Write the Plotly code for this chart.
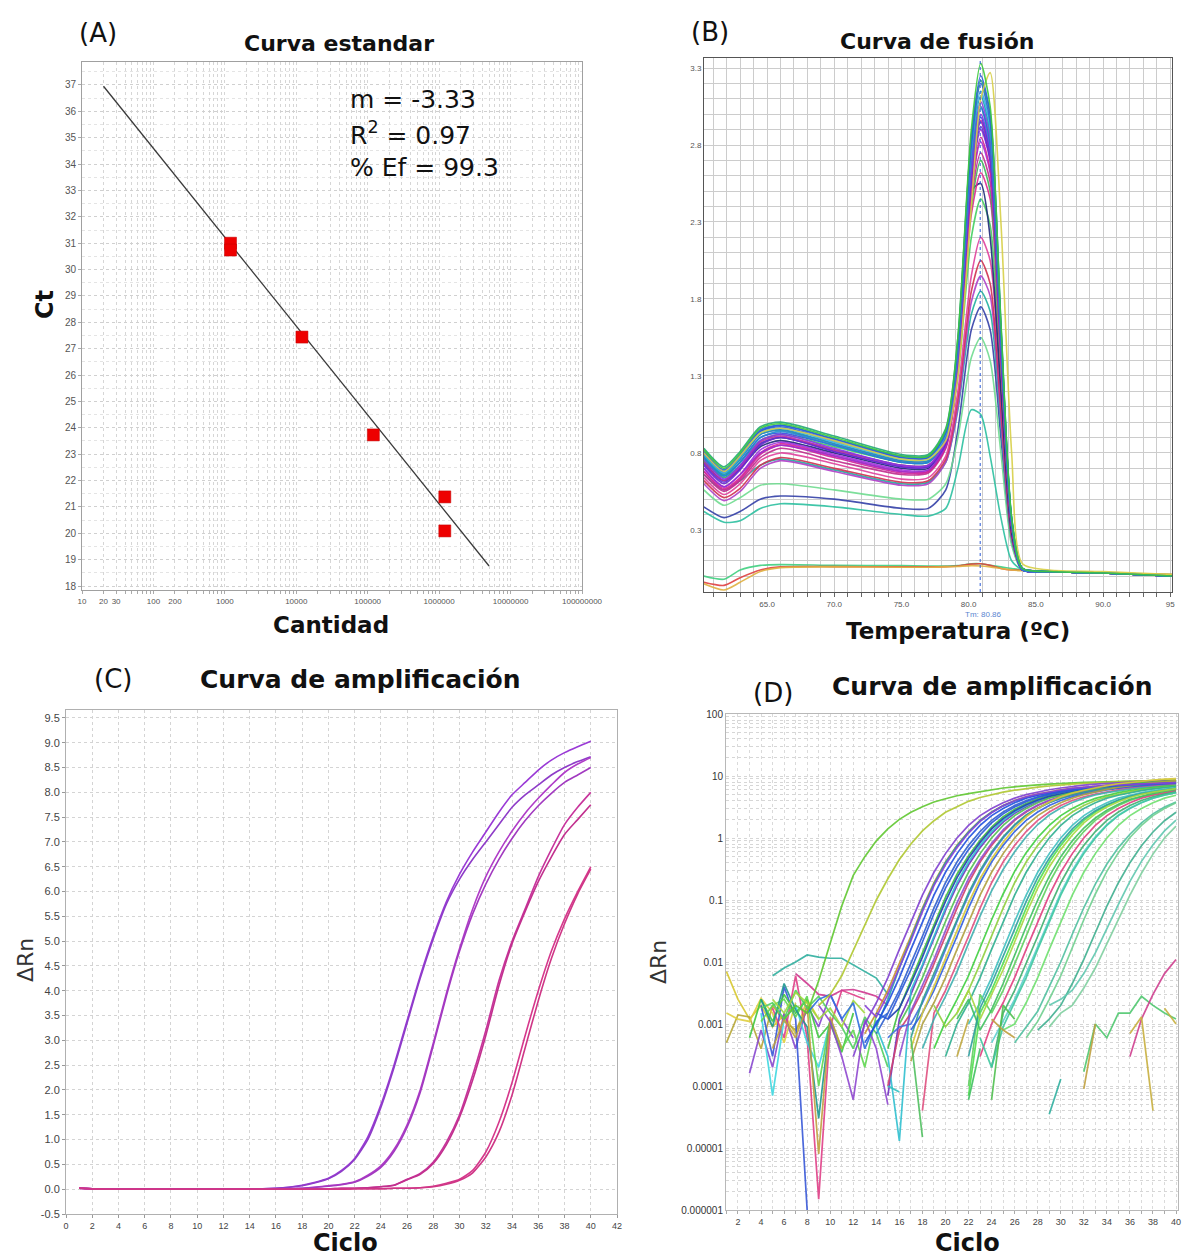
import plotly.graph_objects as go

W, H = 1185, 1256


def px(x):
    return x / W


def py(y):
    return 1 - y / H


# ================= Panel A: Curva estandar =================
a_quantity = [1200, 1200, 12000, 120000, 1200000, 1200000]
a_ct = [31.0, 30.74, 27.44, 23.73, 21.38, 20.09]
a_fit_quantity = [20, 5000000]
a_fit_ct = [36.95, 18.76]
a_stats = ["m = -3.33", "R<sup>2</sup> = 0.97", "% Ef = 99.3"]
a_xlabel_vals = [10, 20, 30, 100, 200, 1000, 10000, 100000, 1000000, 10000000, 100000000]
a_xlabel_text = ["10", "20", "30", "100", "200", "1000", "10000", "100000",
                 "1000000", "10000000", "100000000"]
a_ytick_vals = list(range(18, 38))

# ================= Panel B: Curva de fusión =================
b_temp = [60.3, 61.8, 63.0, 64.5, 66.0, 70.0, 75.0, 77.0, 78.3, 79.2, 80.2, 80.9,
          81.6, 82.4, 83.2, 84.0, 86.0, 90.0, 95.3]
b_curves = [
    [0.0, -0.02, 0.04, 0.07, 0.075, 0.07, 0.068, 0.066, 0.066, 0.068, 0.08, 0.08, 0.07, 0.06, 0.05, 0.04, 0.03, 0.02, 0.01],
    [-0.04, -0.06, -0.01, 0.04, 0.06, 0.062, 0.06, 0.06, 0.062, 0.066, 0.078, 0.08, 0.07, 0.05, 0.04, 0.04, 0.03, 0.02, 0.01],
    [-0.05, -0.09, -0.04, 0.03, 0.055, 0.06, 0.058, 0.058, 0.06, 0.063, 0.068, 0.066, 0.06, 0.05, 0.04, 0.035, 0.03, 0.02, 0.01],
    [0.42, 0.35, 0.36, 0.44, 0.47, 0.45, 0.40, 0.39, 0.44, 0.70, 1.08, 1.05, 0.78, 0.38, 0.10, 0.04, 0.03, 0.02, 0.0],
    [0.45, 0.38, 0.42, 0.50, 0.52, 0.50, 0.44, 0.44, 0.56, 0.95, 1.60, 1.75, 1.60, 0.90, 0.22, 0.04, 0.03, 0.02, 0.0],
    [0.56, 0.46, 0.51, 0.59, 0.60, 0.56, 0.50, 0.50, 0.60, 0.90, 1.42, 1.55, 1.40, 0.80, 0.20, 0.04, 0.03, 0.02, 0.0],
    [0.66, 0.56, 0.62, 0.72, 0.76, 0.69, 0.60, 0.61, 0.74, 1.08, 1.70, 1.85, 1.72, 0.98, 0.24, 0.04, 0.03, 0.02, 0.0],
    [0.60, 0.49, 0.55, 0.70, 0.75, 0.68, 0.59, 0.60, 0.74, 1.10, 1.78, 1.95, 1.82, 1.02, 0.25, 0.04, 0.03, 0.02, 0.0],
    [0.62, 0.51, 0.57, 0.72, 0.77, 0.70, 0.61, 0.62, 0.76, 1.15, 1.85, 2.05, 1.90, 1.08, 0.26, 0.04, 0.03, 0.02, 0.0],
    [0.64, 0.53, 0.60, 0.75, 0.80, 0.73, 0.63, 0.64, 0.78, 1.20, 1.95, 2.20, 2.05, 1.15, 0.28, 0.04, 0.03, 0.02, 0.0],
    [0.78, 0.66, 0.74, 0.88, 0.92, 0.84, 0.74, 0.74, 0.88, 1.30, 2.20, 2.45, 2.28, 1.28, 0.30, 0.04, 0.03, 0.02, 0.0],
    [0.74, 0.62, 0.70, 0.84, 0.88, 0.80, 0.70, 0.70, 0.88, 1.45, 2.50, 2.55, 2.20, 1.20, 0.28, 0.04, 0.03, 0.02, 0.0],
    [0.68, 0.57, 0.64, 0.80, 0.86, 0.78, 0.68, 0.68, 0.84, 1.33, 2.35, 2.62, 2.45, 1.36, 0.32, 0.04, 0.03, 0.02, 0.0],
    [0.75, 0.64, 0.72, 0.86, 0.90, 0.82, 0.72, 0.72, 0.86, 1.35, 2.40, 2.70, 2.50, 1.40, 0.32, 0.04, 0.03, 0.02, 0.0],
    [0.66, 0.55, 0.62, 0.77, 0.83, 0.75, 0.66, 0.67, 0.83, 1.34, 2.45, 2.75, 2.56, 1.42, 0.33, 0.04, 0.03, 0.02, 0.0],
    [0.70, 0.58, 0.66, 0.82, 0.87, 0.79, 0.69, 0.69, 0.85, 1.37, 2.50, 2.82, 2.62, 1.44, 0.33, 0.04, 0.03, 0.02, 0.0],
    [0.68, 0.56, 0.63, 0.79, 0.85, 0.77, 0.67, 0.68, 0.84, 1.36, 2.50, 2.85, 2.64, 1.45, 0.33, 0.04, 0.03, 0.02, 0.0],
    [0.70, 0.58, 0.66, 0.80, 0.85, 0.78, 0.68, 0.69, 0.85, 1.38, 2.55, 2.90, 2.70, 1.48, 0.34, 0.04, 0.03, 0.02, 0.0],
    [0.73, 0.61, 0.70, 0.86, 0.90, 0.81, 0.71, 0.71, 0.87, 1.40, 2.58, 2.92, 2.70, 1.49, 0.34, 0.04, 0.03, 0.02, 0.0],
    [0.72, 0.60, 0.69, 0.85, 0.90, 0.81, 0.71, 0.71, 0.86, 1.40, 2.60, 2.95, 2.72, 1.50, 0.34, 0.04, 0.03, 0.02, 0.0],
    [0.74, 0.62, 0.71, 0.87, 0.91, 0.82, 0.72, 0.72, 0.88, 1.43, 2.62, 2.96, 2.74, 1.51, 0.35, 0.04, 0.03, 0.02, 0.0],
    [0.77, 0.65, 0.74, 0.90, 0.93, 0.85, 0.74, 0.74, 0.90, 1.45, 2.65, 2.98, 2.75, 1.52, 0.35, 0.04, 0.03, 0.02, 0.0],
    [0.76, 0.63, 0.72, 0.88, 0.92, 0.83, 0.72, 0.72, 0.88, 1.42, 2.65, 3.00, 2.78, 1.52, 0.35, 0.04, 0.03, 0.02, 0.0],
    [0.77, 0.65, 0.74, 0.90, 0.94, 0.85, 0.74, 0.74, 0.90, 1.46, 2.68, 3.04, 2.80, 1.54, 0.35, 0.04, 0.03, 0.02, 0.0],
    [0.80, 0.68, 0.77, 0.94, 0.98, 0.89, 0.78, 0.78, 0.94, 1.48, 2.72, 3.05, 2.82, 1.55, 0.36, 0.05, 0.03, 0.02, 0.0],
    [0.79, 0.67, 0.76, 0.92, 0.95, 0.86, 0.75, 0.75, 0.91, 1.47, 2.72, 3.08, 2.85, 1.57, 0.36, 0.05, 0.03, 0.02, 0.0],
    [0.78, 0.66, 0.76, 0.92, 0.95, 0.86, 0.75, 0.75, 0.92, 1.48, 2.75, 3.12, 2.88, 1.58, 0.36, 0.05, 0.03, 0.02, 0.0],
    [0.79, 0.67, 0.77, 0.93, 0.96, 0.87, 0.76, 0.76, 0.92, 1.50, 2.78, 3.15, 2.92, 1.60, 0.37, 0.05, 0.03, 0.02, 0.0],
    [0.80, 0.68, 0.78, 0.94, 0.97, 0.88, 0.77, 0.77, 0.93, 1.50, 2.80, 3.20, 2.95, 1.60, 0.37, 0.05, 0.03, 0.02, 0.0],
    [0.83, 0.71, 0.81, 0.97, 1.00, 0.91, 0.79, 0.79, 0.96, 1.55, 2.85, 3.22, 3.00, 1.64, 0.38, 0.05, 0.03, 0.02, 0.0],
    [0.81, 0.69, 0.79, 0.95, 0.98, 0.89, 0.77, 0.77, 0.94, 1.52, 2.85, 3.25, 3.00, 1.62, 0.37, 0.05, 0.03, 0.02, 0.0],
    [0.80, 0.68, 0.78, 0.93, 0.96, 0.88, 0.76, 0.76, 0.88, 1.30, 2.40, 3.10, 3.27, 2.30, 0.80, 0.08, 0.04, 0.03, 0.01],
    [0.82, 0.70, 0.80, 0.96, 0.99, 0.90, 0.78, 0.78, 0.95, 1.55, 2.90, 3.33, 3.05, 1.65, 0.38, 0.05, 0.03, 0.02, 0.0],
]
b_colors = ["#40d080", "#e04040", "#e0b040", "#2cc0a0", "#3440a8", "#70dc90", "#20b0a0",
            "#b040c8", "#d03050", "#e0409c", "#44d060", "#1e2a78", "#e02890", "#38b858",
            "#c02c8c", "#a030e0", "#d0249a", "#9b30d0", "#5a30d8", "#6a2ad0", "#c02aa8",
            "#3a48e0", "#8a32e6", "#1f8fd0", "#2c70c8", "#8d3be8", "#1c9cb8", "#30b8e0",
            "#2a60d8", "#25a878", "#2f5fe0", "#d8d048", "#3ccc3c"]
b_tm = 80.86
b_xlabel_vals = [65, 70, 75, 80, 85, 90, 95]
b_xlabel_text = ["65.0", "70.0", "75.0", "80.0", "85.0", "90.0", "95"]
b_ylabel_text = ["0.3", "0.8", "1.3", "1.8", "2.3", "2.8", "3.3"]

# ================= Panel C: Curva de amplificación (lineal) =================
c_cycles = list(range(1, 41))
c_curves = [
    [0.02, 0.01, 0, 0, 0, 0, 0, 0, 0, 0, 0, 0, 0, 0.01, 0.01, 0.02, 0.04, 0.08, 0.14, 0.22,
     0.38, 0.62, 1.05, 1.7, 2.5, 3.4, 4.3, 5.1, 5.8, 6.35, 6.8, 7.2, 7.6, 7.95, 8.2, 8.45, 8.65, 8.8, 8.92, 9.03],
    [0.02, 0.01, 0, 0, 0, 0, 0, 0, 0, 0, 0, 0, 0, 0.01, 0.01, 0.02, 0.04, 0.07, 0.13, 0.21,
     0.36, 0.6, 1.0, 1.65, 2.45, 3.35, 4.25, 5.05, 5.75, 6.25, 6.65, 7.0, 7.35, 7.7, 7.95, 8.15, 8.35, 8.5, 8.62, 8.72],
    [0.02, 0.01, 0, 0, 0, 0, 0, 0, 0, 0, 0, 0, 0, 0, 0, 0.01, 0.01, 0.02, 0.04, 0.07,
     0.1, 0.15, 0.28, 0.47, 0.8, 1.3, 2.0, 2.95, 3.95, 4.85, 5.65, 6.3, 6.8, 7.22, 7.58, 7.88, 8.15, 8.4, 8.57, 8.7],
    [0.02, 0.01, 0, 0, 0, 0, 0, 0, 0, 0, 0, 0, 0, 0, 0, 0.01, 0.01, 0.02, 0.04, 0.06,
     0.09, 0.14, 0.26, 0.44, 0.76, 1.25, 1.95, 2.9, 3.9, 4.8, 5.55, 6.15, 6.65, 7.07, 7.43, 7.73, 7.98, 8.2, 8.35, 8.5],
    [0.02, 0.01, 0, 0, 0, 0, 0, 0, 0, 0, 0, 0, 0, 0, 0, 0, 0, 0.01, 0.01, 0.01,
     0.02, 0.02, 0.03, 0.05, 0.08, 0.2, 0.32, 0.55, 0.95, 1.5, 2.3, 3.2, 4.2, 5.0, 5.65, 6.3, 6.85, 7.35, 7.7, 8.0],
    [0.02, 0.01, 0, 0, 0, 0, 0, 0, 0, 0, 0, 0, 0, 0, 0, 0, 0, 0.01, 0.01, 0.01,
     0.02, 0.02, 0.03, 0.05, 0.08, 0.19, 0.3, 0.52, 0.9, 1.45, 2.2, 3.1, 4.1, 4.95, 5.6, 6.2, 6.7, 7.15, 7.45, 7.75],
    [0.02, 0.01, 0, 0, 0, 0, 0, 0, 0, 0, 0, 0, 0, 0, 0, 0, 0, 0, 0, 0,
     0, 0.01, 0.01, 0.01, 0.02, 0.02, 0.03, 0.06, 0.12, 0.2, 0.38, 0.75, 1.35, 2.15, 3.1, 4.0, 4.8, 5.45, 6.0, 6.5],
    [0.02, 0.01, 0, 0, 0, 0, 0, 0, 0, 0, 0, 0, 0, 0, 0, 0, 0, 0, 0, 0,
     0, 0.01, 0.01, 0.01, 0.02, 0.02, 0.03, 0.05, 0.1, 0.18, 0.33, 0.65, 1.15, 1.9, 2.85, 3.8, 4.65, 5.35, 5.95, 6.45],
]
c_colors = ["#9a3ad6", "#8e3cc8", "#b03cc8", "#a23ac0", "#c8349c", "#c2308e", "#d6388c", "#cf3686"]
c_ytick_vals = [-0.5, 0.0, 0.5, 1.0, 1.5, 2.0, 2.5, 3.0, 3.5, 4.0, 4.5, 5.0, 5.5, 6.0, 6.5,
                7.0, 7.5, 8.0, 8.5, 9.0, 9.5]
c_xtick_vals = list(range(0, 43, 2))

# ================= Panel D: Curva de amplificación (log) =================
d_starts = [
    1, 1, 1, 3, 4, 5, 7, 5, 4, 3, 4, 4, 5, 9, 4, 5, 8,
    6, 9,
    12, 13, 14, 13, 15, 14, 15, 14, 15, 15, 15, 16, 16, 17, 17, 17, 18, 18, 14, 13, 17,
    19, 19, 20, 22, 22, 22, 23, 21, 22, 25, 24, 24, 21, 23,
    26, 27, 28, 29, 29,
    29, 32, 36, 36, 39, 32, 22, 24, 21, 24, 17, 15,
]
d_values = [
    [0.007, 0.0025, 0.0012, 0.002, 0.0009, 0.0014, 0.0007, 0.0025, 0.0012],
    [0.0005, 0.0014, 0.0013, 0.0004, 0.002, 0.0011, 0.0008, 0.0016],
    [0.0015, 0.0012, 0.0011, 0.0026, 0.0015, 0.0005, 0.0022],
    [0.00016, 0.0008, 0.0002, 0.0015, 0.0004, 0.002, 0.0009, 0.003, 0.0012, 0.0006],
    [0.002, 0.0003, 0.004, 0.0012, 0.000001],
    [0.0018, 0.0006, 0.006, 0.0006, 0.0000015, 0.0009, 0.0035, 0.003, 0.0025],
    [0.0065, 0.0045, 0.003, 0.0028, 0.0035, 0.0036, 0.0032, 0.0028, 0.002],
    [0.006, 0.008, 0.01, 0.013, 0.012, 0.0115, 0.0115, 0.009, 0.007, 0.0055, 0.003],
    [0.0015, 0.00007, 0.0012, 0.002, 0.0005, 0.0002, 0.0011],
    [0.0006, 0.0025, 0.0011, 0.003, 0.0015, 0.0025, 0.0006, 0.001, 0.00035, 0.0015],
    [0.0011, 0.002, 0.0025, 0.0013, 0.0028, 0.0001, 0.0012, 0.0004, 0.0008, 0.0002, 0.0014],
    [0.0025, 0.0009, 0.0045, 0.0017, 0.0009, 0.00003, 0.0012],
    [0.0004, 0.0012, 0.0006, 0.002, 0.000008, 0.0013, 0.0004],
    [0.002, 0.0011, 0.0003, 0.00006, 0.0012, 0.0004, 0.00005],
    [0.0018, 0.0022, 0.0012, 0.0035, 0.0018, 0.0028, 0.0015, 0.0009, 0.0004, 0.0013, 0.0007, 0.0002],
    [0.0025, 0.0015, 0.0032, 0.0022, 0.0012, 0.0018, 0.0009, 0.0024, 0.0015],
    [0.0015, 0.0025, 0.003, 0.0012, 0.0022, 0.0004, 0.0011, 0.0015],
    [0.0012, 0.002, 0.0015, 0.005, 0.02, 0.08, 0.25, 0.5, 0.9, 1.4, 2.0, 2.6, 3.2, 3.8, 4.3, 4.8, 5.2,
     5.6, 6.0, 6.4, 6.7, 7.0, 7.2, 7.4, 7.6, 7.8, 7.9, 8.0, 8.1, 8.2, 8.3, 8.4, 8.4, 8.5, 8.5],
    [0.002, 0.003, 0.006, 0.015, 0.04, 0.1, 0.22, 0.45, 0.8, 1.3, 1.9, 2.6, 3.2, 3.9, 4.5, 5.0, 5.5,
     5.9, 6.3, 6.6, 6.9, 7.2, 7.4, 7.6, 7.8, 8.0, 8.1, 8.2, 8.3, 8.4, 8.5, 8.6],
    [0.0003, 0.001, 0.0022, 0.0056, 0.016, 0.045, 0.12, 0.28, 0.56, 1.0, 1.6, 2.3, 3.0, 3.7, 4.4, 5.0,
     5.5, 6.0, 6.4, 6.8, 7.1, 7.4, 7.6, 7.8, 8.0, 8.1, 8.2, 8.3, 8.4],
    [0.0007, 0.0015, 0.0035, 0.0093, 0.026, 0.074, 0.19, 0.41, 0.76, 1.27, 1.93, 2.63, 3.35, 4.03, 4.62,
     5.13, 5.56, 5.96, 6.31, 6.61, 6.89, 7.08, 7.24, 7.41, 7.53, 7.65, 7.75, 7.85],
    [0.0009, 0.0025, 0.008, 0.024, 0.07, 0.18, 0.4, 0.74, 1.25, 1.9, 2.6, 3.3, 3.95, 4.5, 5.0, 5.4,
     5.75, 6.05, 6.3, 6.5, 6.7, 6.85, 7.0, 7.1, 7.2, 7.3, 7.35],
    [0.0005, 0.001, 0.0022, 0.0056, 0.016, 0.045, 0.12, 0.28, 0.56, 1.0, 1.6, 2.3, 3.0, 3.7, 4.4, 4.9,
     5.4, 5.8, 6.2, 6.5, 6.8, 7.0, 7.2, 7.3, 7.5, 7.6, 7.7, 7.8],
    [0.0004, 0.0018, 0.005, 0.014, 0.04, 0.11, 0.26, 0.52, 0.92, 1.5, 2.2, 2.9, 3.6, 4.3, 4.9, 5.4,
     5.9, 6.3, 6.7, 7.0, 7.3, 7.6, 7.8, 8.0, 8.2, 8.4],
    [0.0007, 0.0015, 0.0035, 0.0093, 0.026, 0.074, 0.19, 0.41, 0.76, 1.27, 1.93, 2.63, 3.35, 4.03, 4.62,
     5.13, 5.56, 5.96, 6.31, 6.61, 6.89, 7.08, 7.24, 7.41, 7.53, 7.65, 7.75],
    [0.00007, 0.0012, 0.003, 0.0085, 0.024, 0.068, 0.17, 0.37, 0.7, 1.18, 1.8, 2.5, 3.2, 3.9, 4.5, 5.0,
     5.45, 5.85, 6.2, 6.5, 6.8, 7.0, 7.2, 7.35, 7.5, 7.6],
    [0.0009, 0.0003, 0.000013, 0.0035, 0.009, 0.026, 0.074, 0.19, 0.41, 0.76, 1.27, 1.93, 2.63, 3.35,
     4.03, 4.62, 5.13, 5.56, 5.96, 6.31, 6.61, 6.89, 7.08, 7.24, 7.41, 7.53, 7.65],
    [0.0012, 0.0018, 0.0045, 0.012, 0.035, 0.095, 0.23, 0.47, 0.85, 1.4, 2.05, 2.75, 3.45, 4.1, 4.7,
     5.2, 5.6, 6.0, 6.35, 6.65, 6.9, 7.1, 7.3, 7.45, 7.6, 7.7],
    [0.0001, 0.0008, 0.0015, 0.0035, 0.0093, 0.026, 0.074, 0.19, 0.41, 0.76, 1.27, 1.93, 2.63, 3.35,
     4.03, 4.62, 5.13, 5.56, 5.96, 6.31, 6.61, 6.89, 7.08, 7.24, 7.41, 7.53],
    [0.0006, 0.0009, 0.001, 0.0022, 0.0056, 0.016, 0.045, 0.12, 0.28, 0.56, 1.0, 1.6, 2.3, 3.0, 3.7,
     4.4, 4.9, 5.4, 5.8, 6.2, 6.5, 6.8, 7.0, 7.2, 7.3, 7.5],
    [0.001, 0.0022, 0.0056, 0.016, 0.045, 0.12, 0.28, 0.56, 1.0, 1.6, 2.3, 3.0, 3.7, 4.4, 4.9, 5.4,
     5.8, 6.2, 6.5, 6.8, 7.0, 7.2, 7.3, 7.5, 7.6],
    [0.0003, 0.0016, 0.0042, 0.011, 0.032, 0.09, 0.22, 0.45, 0.82, 1.35, 2.0, 2.7, 3.4, 4.05, 4.6,
     5.1, 5.5, 5.9, 6.2, 6.5, 6.75, 6.95, 7.1, 7.25, 7.4],
    [0.0006, 0.0024, 0.0065, 0.018, 0.05, 0.13, 0.3, 0.6, 1.05, 1.65, 2.35, 3.05, 3.75, 4.4, 5.0, 5.5,
     5.9, 6.3, 6.6, 6.9, 7.1, 7.3, 7.45, 7.6],
    [0.0008, 0.0015, 0.0035, 0.0093, 0.026, 0.074, 0.19, 0.41, 0.76, 1.27, 1.93, 2.63, 3.35, 4.03,
     4.62, 5.13, 5.56, 5.96, 6.31, 6.61, 6.89, 7.08, 7.24, 7.41],
    [0.00025, 0.001, 0.0022, 0.0056, 0.016, 0.045, 0.12, 0.28, 0.56, 1.0, 1.6, 2.3, 3.0, 3.7, 4.4,
     5.0, 5.6, 6.1, 6.6, 7.0, 7.4, 7.8, 8.1, 8.4],
    [0.00004, 0.0015, 0.0035, 0.0093, 0.026, 0.074, 0.19, 0.41, 0.76, 1.27, 1.93, 2.63, 3.35, 4.03,
     4.62, 5.13, 5.56, 5.96, 6.31, 6.61, 6.89, 7.08, 7.24],
    [0.0004, 0.0012, 0.0028, 0.007, 0.02, 0.055, 0.14, 0.31, 0.6, 1.05, 1.65, 2.35, 3.05, 3.75, 4.4,
     4.95, 5.4, 5.8, 6.15, 6.45, 6.7, 6.9, 7.1],
    [0.0015, 0.0012, 0.003, 0.0075, 0.021, 0.06, 0.155, 0.34, 0.65, 1.12, 1.75, 2.45, 3.15, 3.85, 4.5,
     5.05, 5.5, 5.9, 6.25, 6.55, 6.8, 7.0, 7.2, 7.35, 7.5, 7.6, 7.7],
    [0.002, 0.0013, 0.003, 0.008, 0.022, 0.065, 0.17, 0.37, 0.7, 1.2, 1.85, 2.55, 3.3, 4.0, 4.6, 5.1,
     5.55, 5.95, 6.3, 6.6, 6.85, 7.05, 7.2, 7.35, 7.5, 7.6, 7.7, 7.8],
    [0.0004, 0.0015, 0.004, 0.011, 0.032, 0.09, 0.22, 0.46, 0.85, 1.45, 2.2, 3.0, 3.8, 4.6, 5.3, 5.9,
     6.5, 7.0, 7.5, 7.9, 8.3, 8.6, 8.9, 9.1],
    [0.0004, 0.0011, 0.0025, 0.006, 0.017, 0.048, 0.125, 0.29, 0.58, 1.02, 1.6, 2.3, 3.0, 3.7, 4.35,
     4.9, 5.4, 5.8, 6.2, 6.5, 6.8, 7.0],
    [0.002, 0.0009, 0.0015, 0.0035, 0.0093, 0.026, 0.074, 0.19, 0.41, 0.76, 1.27, 1.93, 2.63, 3.35,
     4.03, 4.62, 5.13, 5.56, 5.96, 6.31, 6.61, 6.89],
    [0.0003, 0.001, 0.0022, 0.0056, 0.016, 0.045, 0.12, 0.28, 0.56, 1.0, 1.6, 2.3, 3.0, 3.7, 4.4, 4.9,
     5.4, 5.8, 6.2, 6.5, 6.8],
    [0.00007, 0.0015, 0.0035, 0.0093, 0.026, 0.074, 0.19, 0.41, 0.76, 1.27, 1.93, 2.63, 3.35, 4.03,
     4.62, 5.13, 5.56, 5.96, 6.31],
    [0.001, 0.0022, 0.0056, 0.016, 0.045, 0.12, 0.28, 0.56, 1.0, 1.6, 2.3, 3.0, 3.7, 4.4, 4.9, 5.4,
     5.8, 6.2, 6.5],
    [0.0001, 0.003, 0.0015, 0.0035, 0.0093, 0.026, 0.074, 0.19, 0.41, 0.76, 1.27, 1.93, 2.63, 3.35,
     4.03, 4.62, 5.13, 5.56, 5.96],
    [0.0003, 0.001, 0.0022, 0.0056, 0.016, 0.045, 0.12, 0.28, 0.56, 1.0, 1.6, 2.3, 3.0, 3.7, 4.4, 4.9,
     5.4, 5.8],
    [0.0012, 0.0025, 0.0008, 0.0017, 0.0045, 0.013, 0.037, 0.1, 0.24, 0.5, 0.9, 1.45, 2.1, 2.8, 3.5,
     4.2, 4.75, 5.25, 5.7, 6.1],
    [0.0003, 0.0018, 0.0045, 0.012, 0.034, 0.095, 0.23, 0.47, 0.85, 1.4, 2.05, 2.75, 3.45, 4.1, 4.7,
     5.2, 5.6, 6.0, 6.35],
    [0.0008, 0.001, 0.0022, 0.0056, 0.016, 0.045, 0.12, 0.28, 0.56, 1.0, 1.6, 2.3, 3.0, 3.7, 4.4, 4.9],
    [0.0005, 0.0011, 0.0025, 0.0065, 0.018, 0.05, 0.13, 0.3, 0.6, 1.05, 1.65, 2.35, 3.05, 3.75, 4.4,
     4.95, 5.4],
    [0.0002, 0.0015, 0.0035, 0.0093, 0.026, 0.074, 0.19, 0.41, 0.76, 1.27, 1.93, 2.63, 3.35, 4.03,
     4.62, 5.13, 5.56],
    [0.0015, 0.0035, 0.0012, 0.003, 0.0075, 0.021, 0.06, 0.155, 0.34, 0.65, 1.12, 1.75, 2.45, 3.15,
     3.85, 4.5, 5.05, 5.5, 5.9, 6.25],
    [0.0006, 0.0002, 0.0009, 0.0022, 0.0056, 0.016, 0.045, 0.12, 0.28, 0.56, 1.0, 1.6, 2.3, 3.0, 3.7,
     4.4, 4.9, 5.4],
    [0.0005, 0.0009, 0.0016, 0.004, 0.01, 0.028, 0.075, 0.18, 0.38, 0.7, 1.15, 1.75, 2.45, 3.15, 3.8],
    [0.0006, 0.0011, 0.0025, 0.006, 0.017, 0.048, 0.125, 0.29, 0.58, 1.02, 1.6, 2.3, 3.0, 3.7],
    [0.0008, 0.0012, 0.002, 0.0045, 0.011, 0.03, 0.08, 0.19, 0.4, 0.75, 1.25, 1.9, 2.6],
    [0.0009, 0.0015, 0.002, 0.0038, 0.008, 0.02, 0.05, 0.12, 0.27, 0.55, 1.0, 1.55],
    [0.002, 0.0025, 0.0035, 0.0065, 0.014, 0.035, 0.085, 0.2, 0.42, 0.78, 1.3, 1.95],
    [0.000035, 0.00013],
    [0.00017, 0.001, 0.0006, 0.0015, 0.0015, 0.0028, 0.002, 0.0015, 0.0012],
    [0.0003, 0.0012, 0.003, 0.0065, 0.011],
    [0.0007, 0.0013, 0.00004],
    [0.0018, 0.001],
    [0.00009, 0.001],
    [0.00006, 0.0004],
    [0.00006, 0.002, 0.0012],
    [0.0003, 0.0012],
    [0.0012, 0.0008, 0.0006],
    [0.0006, 0.000015],
    [0.0001, 0.00008],
]
d_colors = [
    "#d8c830", "#b8a838", "#e0d040", "#8848d0", "#3858d8", "#e04088", "#d03890", "#30b0a0",
    "#40d8e0", "#40c840", "#60d850", "#209890", "#c0a040", "#9048d0", "#50d060", "#a0d840",
    "#3070e0",
    "#60c830", "#b0c830",
    "#8040d0", "#c89030", "#20a0b0", "#2050e0", "#40c040", "#3060d0", "#7030c0", "#30c0d0",
    "#2040b0", "#d04070", "#4070e0", "#50c050", "#9050d0", "#30a090", "#3060e0", "#b0a040",
    "#e05080", "#40b0b0", "#2a58d8", "#8a44d8", "#d8c838",
    "#40d040", "#90d040", "#30b090", "#50e050", "#40c0c0", "#60d060", "#e04080", "#40c060",
    "#30a0a0", "#70e070", "#60d0d0", "#40b070", "#a8d840", "#40c8a0",
    "#50c0a0", "#70d090", "#40b090", "#80d0a0", "#60c8b0",
    "#30b0a0", "#50c870", "#d04090", "#c8b040", "#c8b040", "#c0a040", "#40c060", "#50c050",
    "#c0a840", "#c0a040", "#50c060", "#30c0c0",
]
d_ytick_vals = [0.000001, 0.00001, 0.0001, 0.001, 0.01, 0.1, 1, 10, 100]
d_ytick_text = ["0.000001", "0.00001", "0.0001", "0.001", "0.01", "0.1", "1", "10", "100"]

# ================= Figure =================
FONT = "Liberation Sans, Arial, sans-serif"
WIDE = "DejaVu Sans, Arial, sans-serif"
fig = go.Figure()

# --- A
fig.add_trace(go.Scatter(x=a_fit_quantity, y=a_fit_ct, mode="lines",
                         line=dict(color="#3a3a3a", width=1.3), xaxis="x", yaxis="y"))
fig.add_trace(go.Scatter(x=a_quantity, y=a_ct, mode="markers",
                         marker=dict(symbol="square", size=12, color="#ee0000",
                                     line=dict(color="#c00000", width=0.5)),
                         xaxis="x", yaxis="y"))

# --- B
for vals, col in zip(b_curves, b_colors):
    fig.add_trace(go.Scatter(x=b_temp, y=vals, mode="lines",
                             line=dict(color=col, width=1.6, shape="spline", smoothing=0.7),
                             opacity=0.9, xaxis="x2", yaxis="y2"))
fig.add_trace(go.Scatter(x=[b_tm, b_tm], y=[-0.103, 3.365], mode="lines",
                         line=dict(color="#2a5bd7", width=1, dash="dot"),
                         xaxis="x2", yaxis="y2"))

# --- C
for vals, col in zip(c_curves, c_colors):
    fig.add_trace(go.Scatter(x=c_cycles, y=vals, mode="lines",
                             line=dict(color=col, width=1.6, shape="spline", smoothing=0.6),
                             xaxis="x3", yaxis="y3"))

# --- D
for st, vals, col in zip(d_starts, d_values, d_colors):
    xs = list(range(st, st + len(vals)))
    fig.add_trace(go.Scatter(x=xs, y=vals, mode="lines",
                             line=dict(color=col, width=1.7), opacity=0.9,
                             xaxis="x4", yaxis="y4"))

# ---- axis tick sets
a_tv, a_tt = [], []
for k in range(1, 8):
    for m in range(1, 10):
        v = m * 10 ** k
        a_tv.append(v)
        a_tt.append(a_xlabel_text[a_xlabel_vals.index(v)] if v in a_xlabel_vals else "")
a_tv.append(100000000)
a_tt.append(a_xlabel_text[-1])

b_xtv = list(range(61, 96))
b_xtt = [b_xlabel_text[b_xlabel_vals.index(v)] if v in b_xlabel_vals else "" for v in b_xtv]
b_ytv = [i / 10 for i in range(-1, 34)]
b_ytt = []
for i in range(-1, 34):
    b_ytt.append(b_ylabel_text[(i - 3) // 5] if (i >= 3 and (i - 3) % 5 == 0) else "")

c_ytt = ["%.1f" % v for v in c_ytick_vals]

d_xtv = list(range(1, 41))
d_xtt = [str(v) if v % 2 == 0 else "" for v in d_xtv]
d_ytv, d_ytt = [], []
for k in range(-6, 2):
    for m in range(1, 10):
        v = m * 10.0 ** k
        d_ytv.append(v)
        d_ytt.append(d_ytick_text[k + 6] if m == 1 else "")
d_ytv.append(100.0)
d_ytt.append(d_ytick_text[-1])

tickfont_small = dict(family=FONT, size=8, color="#555555")
common = dict(automargin=False, zeroline=False, showline=True, mirror=True)

layout_axes = dict(
    xaxis=dict(type="log", domain=[px(82), px(582)], range=[1, 8], anchor="y",
               tickmode="array", tickvals=a_tv, ticktext=a_tt, tickangle=0,
               tickfont=dict(family=FONT, size=8, color="#555"),
               ticks="outside", ticklen=3, tickcolor="#aaa",
               showgrid=True, gridcolor="#d6d6d6", griddash="dot", gridwidth=1,
               linecolor="#a0a0a0", **common),
    yaxis=dict(domain=[py(590), py(62)], range=[17.85, 37.87], anchor="x",
               tickmode="array", tickvals=a_ytick_vals,
               tickfont=dict(family=FONT, size=10, color="#555"),
               ticks="outside", ticklen=3, tickcolor="#aaa",
               showgrid=True, gridcolor="#d0d0d0", griddash="dot",
               minor=dict(dtick=0.5, tick0=0, showgrid=True, gridcolor="#e4e4e4", griddash="dot"),
               linecolor="#a0a0a0", **common),
    xaxis2=dict(domain=[px(704), px(1172)], range=[60.31, 95.13], anchor="y2",
                tickmode="array", tickvals=b_xtv, ticktext=b_xtt, tickangle=0,
                tickfont=tickfont_small, ticks="outside", ticklen=4, tickcolor="#666",
                showgrid=True, gridcolor="#cccccc", gridwidth=1,
                linecolor="#555", **common),
    yaxis2=dict(domain=[py(592), py(58)], range=[-0.103, 3.365], anchor="x2",
                tickmode="array", tickvals=b_ytv, ticktext=b_ytt,
                tickfont=tickfont_small, ticks="",
                showgrid=True, gridcolor="#cccccc", gridwidth=1,
                linecolor="#555", **common),
    xaxis3=dict(domain=[px(66), px(617)], range=[0, 42], anchor="y3",
                tickmode="array", tickvals=c_xtick_vals,
                tickfont=dict(family=FONT, size=9, color="#444"),
                ticks="outside", ticklen=3, tickcolor="#999",
                showgrid=True, gridcolor="#d4d4d4", griddash="dot",
                linecolor="#b0b0b0", **common),
    yaxis3=dict(domain=[py(1214), py(710)], range=[-0.5, 9.66], anchor="x3",
                tickmode="array", tickvals=c_ytick_vals, ticktext=c_ytt,
                tickfont=dict(family=FONT, size=11, color="#444"),
                ticks="outside", ticklen=3, tickcolor="#999",
                showgrid=True, gridcolor="#d4d4d4", griddash="dot",
                linecolor="#b0b0b0", **common),
    xaxis4=dict(domain=[px(726), px(1178)], range=[0.96, 40.17], anchor="y4",
                tickmode="array", tickvals=d_xtv, ticktext=d_xtt, tickangle=0,
                tickfont=dict(family=FONT, size=9, color="#444"),
                ticks="outside", ticklen=3, tickcolor="#aaa",
                showgrid=True, gridcolor="#dadada", griddash="dot",
                linecolor="#b8b8b8", **common),
    yaxis4=dict(type="log", domain=[py(1210), py(714)], range=[-6, 2], anchor="x4",
                tickmode="array", tickvals=d_ytv, ticktext=d_ytt,
                tickfont=dict(family=FONT, size=10, color="#333"),
                ticks="", showgrid=True, gridcolor="#d6d6d6", griddash="dot",
                linecolor="#b8b8b8", **common),
)


def ann(text, x, y, size, family=WIDE, color="#111111", angle=0, xanchor="center"):
    return dict(text=text, x=px(x), y=py(y), xref="paper", yref="paper",
                showarrow=False, textangle=angle, xanchor=xanchor, yanchor="middle",
                font=dict(family=family, size=size, color=color))


annotations = [
    ann("(A)", 98, 33, 26),
    ann("<b>Curva estandar</b>", 339, 44, 22),
    ann(a_stats[0], 348, 100, 25, xanchor="left"),
    ann(a_stats[1], 348, 133, 25, xanchor="left"),
    ann(a_stats[2], 348, 167, 25, xanchor="left"),
    ann("<b>Ct</b>", 45, 305, 24, angle=-90),
    ann("<b>Cantidad</b>", 331, 625, 23),
    ann("(B)", 710, 32, 26),
    ann("<b>Curva de fusión</b>", 937, 41, 22),
    ann("<b>Temperatura (ºC)</b>", 958, 631, 23),
    ann("Tm: %.2f" % b_tm, 983, 614, 8, family=FONT, color="#5a86d0"),
    ann("(C)", 113, 679, 26),
    ann("<b>Curva de amplificación</b>", 360, 679, 25),
    ann("ΔRn", 25, 960, 22, color="#333", angle=-90),
    ann("<b>Ciclo</b>", 345, 1243, 24),
    ann("(D)", 773, 693, 26),
    ann("<b>Curva de amplificación</b>", 992, 686, 25),
    ann("ΔRn", 658, 962, 22, color="#333", angle=-90),
    ann("<b>Ciclo</b>", 967, 1243, 24),
]

fig.update_layout(
    width=W, height=H, margin=dict(l=0, r=0, t=0, b=0, pad=0, autoexpand=False),
    paper_bgcolor="white", plot_bgcolor="white", showlegend=False,
    annotations=annotations, **layout_axes,
)

# remove the default 8px page margin so the figure fills the window exactly
fig.write_html(
    "out.html",
    config={"displayModeBar": False},
    post_script="document.documentElement.style.margin='0';document.body.style.margin='0';"
                "document.documentElement.style.overflow='hidden';document.body.style.overflow='hidden';",
)
